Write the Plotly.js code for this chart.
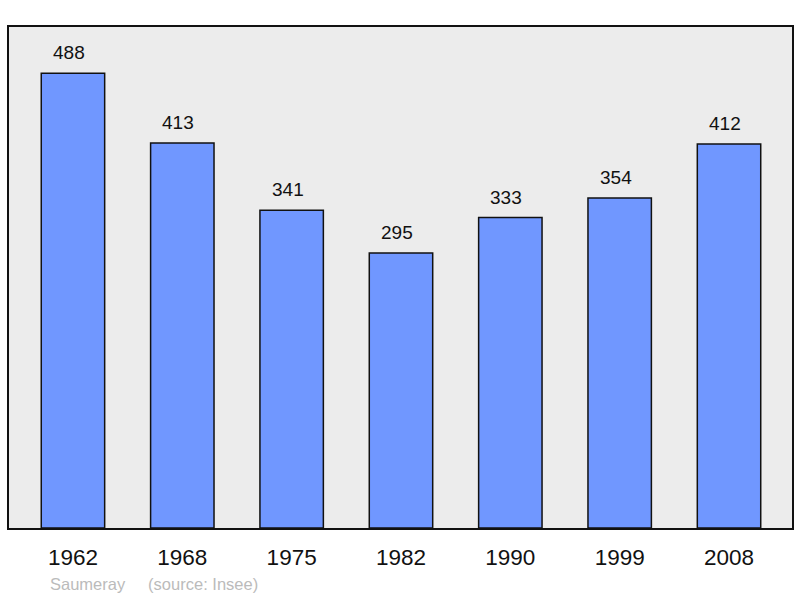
<!DOCTYPE html>
<html>
<head>
<meta charset="utf-8">
<script src="https://cdn.plot.ly/plotly-3.0.1.min.js"></script>
<style>body{margin:0;padding:0;background:#fff;} #chart{width:800px;height:598px;}</style>
</head>
<body>
<div id="chart"></div>
<script>
const years = ["1962","1968","1975","1982","1990","1999","2008"];
const population = [488, 413, 341, 295, 333, 354, 412];
const place = "Saumeray";
const source = "(source: Insee)";

const xs = years.map((_, i) => i);

const trace = {
  type: "bar",
  x: xs,
  y: population,
  width: 0.58,
  marker: { color: "#7097ff", line: { color: "#111111", width: 1.5 } },
  hoverinfo: "none"
};

const annotations = population.map((v, i) => ({
  x: i, y: v, xref: "x", yref: "y",
  text: String(v), showarrow: false,
  yanchor: "bottom", yshift: 8, xshift: -4,
  font: { family: "Liberation Sans, Arial, sans-serif", size: 19, color: "#111" }
}));
annotations.push({
  xref: "paper", yref: "paper", x: 0.05, y: -0.089,
  xanchor: "left", yanchor: "top", showarrow: false,
  text: place + "&nbsp;&nbsp;&nbsp;&nbsp;&nbsp;" + source,
  font: { family: "Liberation Sans, Arial, sans-serif", size: 16.5, color: "#bbbbbb" }
});

const layout = {
  width: 800, height: 598,
  margin: { l: 9, r: 8, t: 27, b: 70 },
  paper_bgcolor: "#ffffff",
  plot_bgcolor: "#ececec",
  showlegend: false,
  xaxis: {
    range: [-0.585, 6.576],
    tickvals: xs, ticktext: years,
    showgrid: false, zeroline: false,
    showline: true, mirror: true, linecolor: "#111", linewidth: 2,
    ticks: "", ticklabelstandoff: 8,
    tickfont: { family: "Liberation Sans, Arial, sans-serif", size: 22.5, color: "#111" },
    fixedrange: true
  },
  yaxis: {
    range: [0, 537.5],
    showgrid: false, zeroline: false, showticklabels: false, ticks: "",
    showline: true, mirror: true, linecolor: "#111", linewidth: 2,
    fixedrange: true
  },
  annotations: annotations
};

Plotly.newPlot("chart", [trace], layout, { staticPlot: true });
</script>
</body>
</html>
